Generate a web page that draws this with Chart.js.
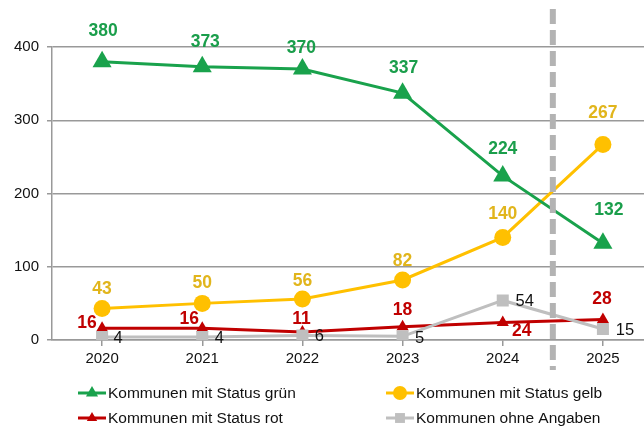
<!DOCTYPE html>
<html>
<head>
<meta charset="utf-8">
<script src="https://cdn.jsdelivr.net/npm/chart.js@4/dist/chart.umd.min.js"></script>
<style>
  html, body { margin: 0; padding: 0; background: #fff; overflow: hidden; }
  #wrap { width: 644px; height: 428px; overflow: hidden; }
  canvas { display: block; }
</style>
</head>
<body>
<div id="wrap"><canvas id="chart" width="664" height="428" style="width:664px;height:428px"></canvas></div>
<script>
const years = ['2020', '2021', '2022', '2023', '2024', '2025'];
const gruen = [380, 373, 370, 337, 224, 132];
const gelb = [43, 50, 56, 82, 140, 267];
const rot = [16, 16, 11, 18, 24, 28];
const ohne = [4, 4, 6, 5, 54, 15];
const yTicks = [0, 100, 200, 300, 400];

const names = ['Kommunen mit Status grün', 'Kommunen mit Status gelb', 'Kommunen mit Status rot', 'Kommunen ohne Angaben'];

// label offsets relative to each point (style only)
const lblOff = [
  [[1, -30], [3, -25], [-1, -21], [1, -25], [0, -27], [6, -33]],
  [[0, -19], [0, -20], [0, -18], [0, -19], [0, -23], [0, -31]],
  [[-15, -5], [-13, -9], [-1, -13], [0, -17], [19, 9], [-1, -20]],
  [[16, 1], [17, 1], [17, 1], [17, 2], [22, 1], [22, 1]]
];
const lblColor = ['#1a9e4b', '#e1b51c', '#c00000', '#111'];
const lblBold = [true, true, true, false];

const green = '#19a24c', yellow = '#ffc000', red = '#c00000', grey = '#bfbfbf';
const font = '"Liberation Sans", Arial, sans-serif';

const labelsPlugin = {
  id: 'labels',
  afterDatasetsDraw(chart) {
    const ctx = chart.ctx;
    const x = chart.scales.x;
    // dashed divider between 2024 and 2025
    const xm = (x.getPixelForValue(4) + x.getPixelForValue(5)) / 2;
    ctx.save();
    ctx.strokeStyle = '#b3b3b3';
    ctx.lineWidth = 6;
    ctx.setLineDash([15, 6]);
    ctx.beginPath();
    ctx.moveTo(xm, 9);
    ctx.lineTo(xm, 370);
    ctx.stroke();
    ctx.restore();

    chart.data.datasets.forEach((ds, i) => {
      const meta = chart.getDatasetMeta(i);
      ctx.save();
      ctx.font = (lblBold[i] ? 'bold 17.5px ' : '16.5px ') + font;
      ctx.fillStyle = lblColor[i];
      ctx.textAlign = 'center';
      ctx.textBaseline = 'middle';
      meta.data.forEach((pt, j) => {
        const o = lblOff[i][j];
        ctx.fillText(String(ds.data[j]), pt.x + o[0], pt.y + o[1]);
      });
      ctx.restore();
    });
  },
  afterDraw(chart) {
    const ctx = chart.ctx;
    const rows = [[78, 393, 0], [386, 393, 1], [78, 418, 2], [386, 418, 3]];
    rows.forEach(([lx, ly, i]) => {
      const ds = chart.data.datasets[i];
      ctx.save();
      ctx.strokeStyle = ds.borderColor;
      ctx.lineWidth = 3;
      ctx.beginPath();
      ctx.moveTo(lx, ly);
      ctx.lineTo(lx + 28, ly);
      ctx.stroke();
      ctx.fillStyle = ds.pointBackgroundColor;
      ctx.strokeStyle = ds.pointBackgroundColor;
      Chart.helpers.drawPoint(ctx, { pointStyle: ds.pointStyle, radius: i === 2 ? 6 : 7, borderWidth: 0 }, lx + 14, ly);
      ctx.font = '15.5px ' + font;
      ctx.fillStyle = '#111';
      ctx.textBaseline = 'middle';
      ctx.fillText(names[i], lx + 30, ly + 1);
      ctx.restore();
    });
  }
};

function line(label, data, color, style, radius, order) {
  return {
    label: label,
    data: data,
    borderColor: color,
    backgroundColor: color,
    pointBackgroundColor: color,
    pointBorderColor: color,
    pointStyle: style,
    pointRadius: radius,
    borderWidth: 3,
    pointBorderWidth: 0,
    tension: 0,
    order: order
  };
}

new Chart(document.getElementById('chart'), {
  type: 'line',
  data: {
    labels: years,
    datasets: [
      line(names[0], gruen, green, 'triangle', 11, 0),
      line(names[1], gelb, yellow, 'circle', 8.5, 1),
      line(names[2], rot, red, 'triangle', 7, 3),
      line(names[3], ohne, grey, 'rect', 8.5, 2)
    ]
  },
  options: {
    responsive: false,
    animation: false,
    layout: { padding: { top: 47, right: 0, bottom: 56, left: 0 } },
    plugins: { legend: { display: false }, tooltip: { enabled: false } },
    scales: {
      x: {
        offset: true,
        grid: { drawOnChartArea: false, drawTicks: true, tickLength: 6, color: '#999', lineWidth: 1.5 },
        border: { color: '#999', width: 1.5 },
        ticks: { color: '#111', font: { family: font, size: 15 }, padding: 4, maxRotation: 0 }
      },
      y: {
        min: 0,
        max: 400,
        afterBuildTicks(s) { s.ticks = yTicks.map(v => ({ value: v })); },
        afterFit(s) { s.width = 52; },
        grid: { color: '#999', lineWidth: 1.5, tickLength: 5 },
        border: { color: '#999', width: 1.5 },
        ticks: { color: '#111', font: { family: font, size: 15 }, padding: 8 }
      }
    }
  },
  plugins: [labelsPlugin]
});
</script>
</body>
</html>
